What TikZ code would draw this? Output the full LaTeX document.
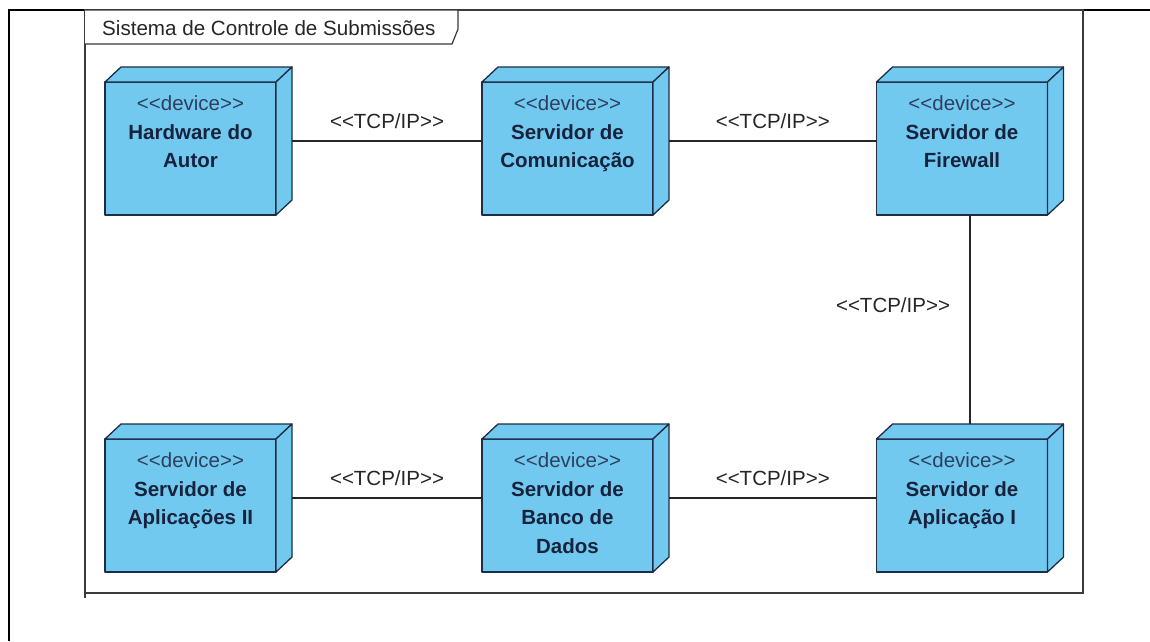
\documentclass[tikz,border=0pt]{standalone}
\usepackage{fontspec}
\setmainfont{Liberation Sans}
\usetikzlibrary{calc}
\definecolor{boxfill}{HTML}{72C9F0}
\definecolor{boxline}{HTML}{1E2D45}
\definecolor{txtcol}{HTML}{17233C}
\definecolor{stereocol}{HTML}{2E3F5E}
\definecolor{framecol}{HTML}{3A3A3A}
\newcommand{\llt}{<\kern0pt<}
\newcommand{\ggt}{>\kern0pt>}
\tikzset{
  devbb/.style={minimum width=187pt, minimum height=148pt, inner sep=0pt, outer sep=0pt, draw=none},
  devface/.style={fill=boxfill, draw=boxline, line width=1.3pt, line join=round},
  devtext/.style={anchor=north, align=center, inner sep=0pt, text=txtcol, font=\fontsize{20.5}{28.5}\selectfont\bfseries},
  conn/.style={draw=black!85, line width=1.2pt},
  lbl/.style={inner sep=0pt, text=black!85, font=\fontsize{20.5}{22}\selectfont},
  framebox/.style={draw=framecol, line width=1.5pt},
}
\newcommand{\devnode}[3]{%
  \node[devbb] (#1) at (#2) {};
  \path[devface] (#1.south west) -- ($(#1.north west)+(0pt,-15pt)$) -- ($(#1.north east)+(-16pt,-15pt)$) -- ($(#1.south east)+(-16pt,0pt)$) -- cycle;
  \path[devface] ($(#1.north west)+(0pt,-15pt)$) -- ($(#1.north west)+(16pt,0pt)$) -- (#1.north east) -- ($(#1.north east)+(-16pt,-15pt)$) -- cycle;
  \path[devface] ($(#1.north east)+(-16pt,-15pt)$) -- (#1.north east) -- ($(#1.south east)+(0pt,15pt)$) -- ($(#1.south east)+(-16pt,0pt)$) -- cycle;
  \node[devtext] (#1-t) at ($(#1.north)+(-8pt,-28.5pt)$) {{\mdseries\color{stereocol}\llt device\ggt}\\ #3};
}
\begin{document}
\begin{tikzpicture}[x=1pt,y=-1pt]
\useasboundingbox[fill=white] (0,0) rectangle (1150,641);
% outer lines
\draw[black, line width=2pt] (9,641) -- (9,10) -- (1150,10);
% frame
\draw[framebox] (85,10) rectangle (1083,593);
\draw[framebox] (85,593) -- (85,598);
\draw[fill=white, draw=framecol, line width=1.2pt] (85,10) -- (458,10) -- (458,29) -- (452,44) -- (85,44);
\node[anchor=west, inner sep=0pt, text=black!85, font=\fontsize{20.6}{24}\selectfont] (ftitle) at (102,28) {Sistema de Controle de Submissões};
% devices
\devnode{n1}{198.5,141}{Hardware do\\ Autor}
\devnode{n2}{575.5,141}{Servidor de\\ Comunicação}
\devnode{n3}{970,141}{Servidor de\\ Firewall}
\devnode{n4}{198.5,498}{Servidor de\\ Aplicações II}
\devnode{n5}{575.5,498}{Servidor de\\ Banco de\\ Dados}
\devnode{n6}{970,498}{Servidor de\\ Aplicação I}
% connectors
\draw[conn] (n1) -- node[lbl, yshift=20pt] (l1) {\llt TCP/IP\ggt} (n2);
\draw[conn] (n2) -- node[lbl, yshift=20pt] (l2) {\llt TCP/IP\ggt} (n3);
\draw[conn] (n3) -- node[lbl, pos=0.43, xshift=-77pt] (l3) {\llt TCP/IP\ggt} (n6);
\draw[conn] (n4) -- node[lbl, yshift=20pt] (l4) {\llt TCP/IP\ggt} (n5);
\draw[conn] (n5) -- node[lbl, yshift=20pt] (l5) {\llt TCP/IP\ggt} (n6);
\end{tikzpicture}
\end{document}
